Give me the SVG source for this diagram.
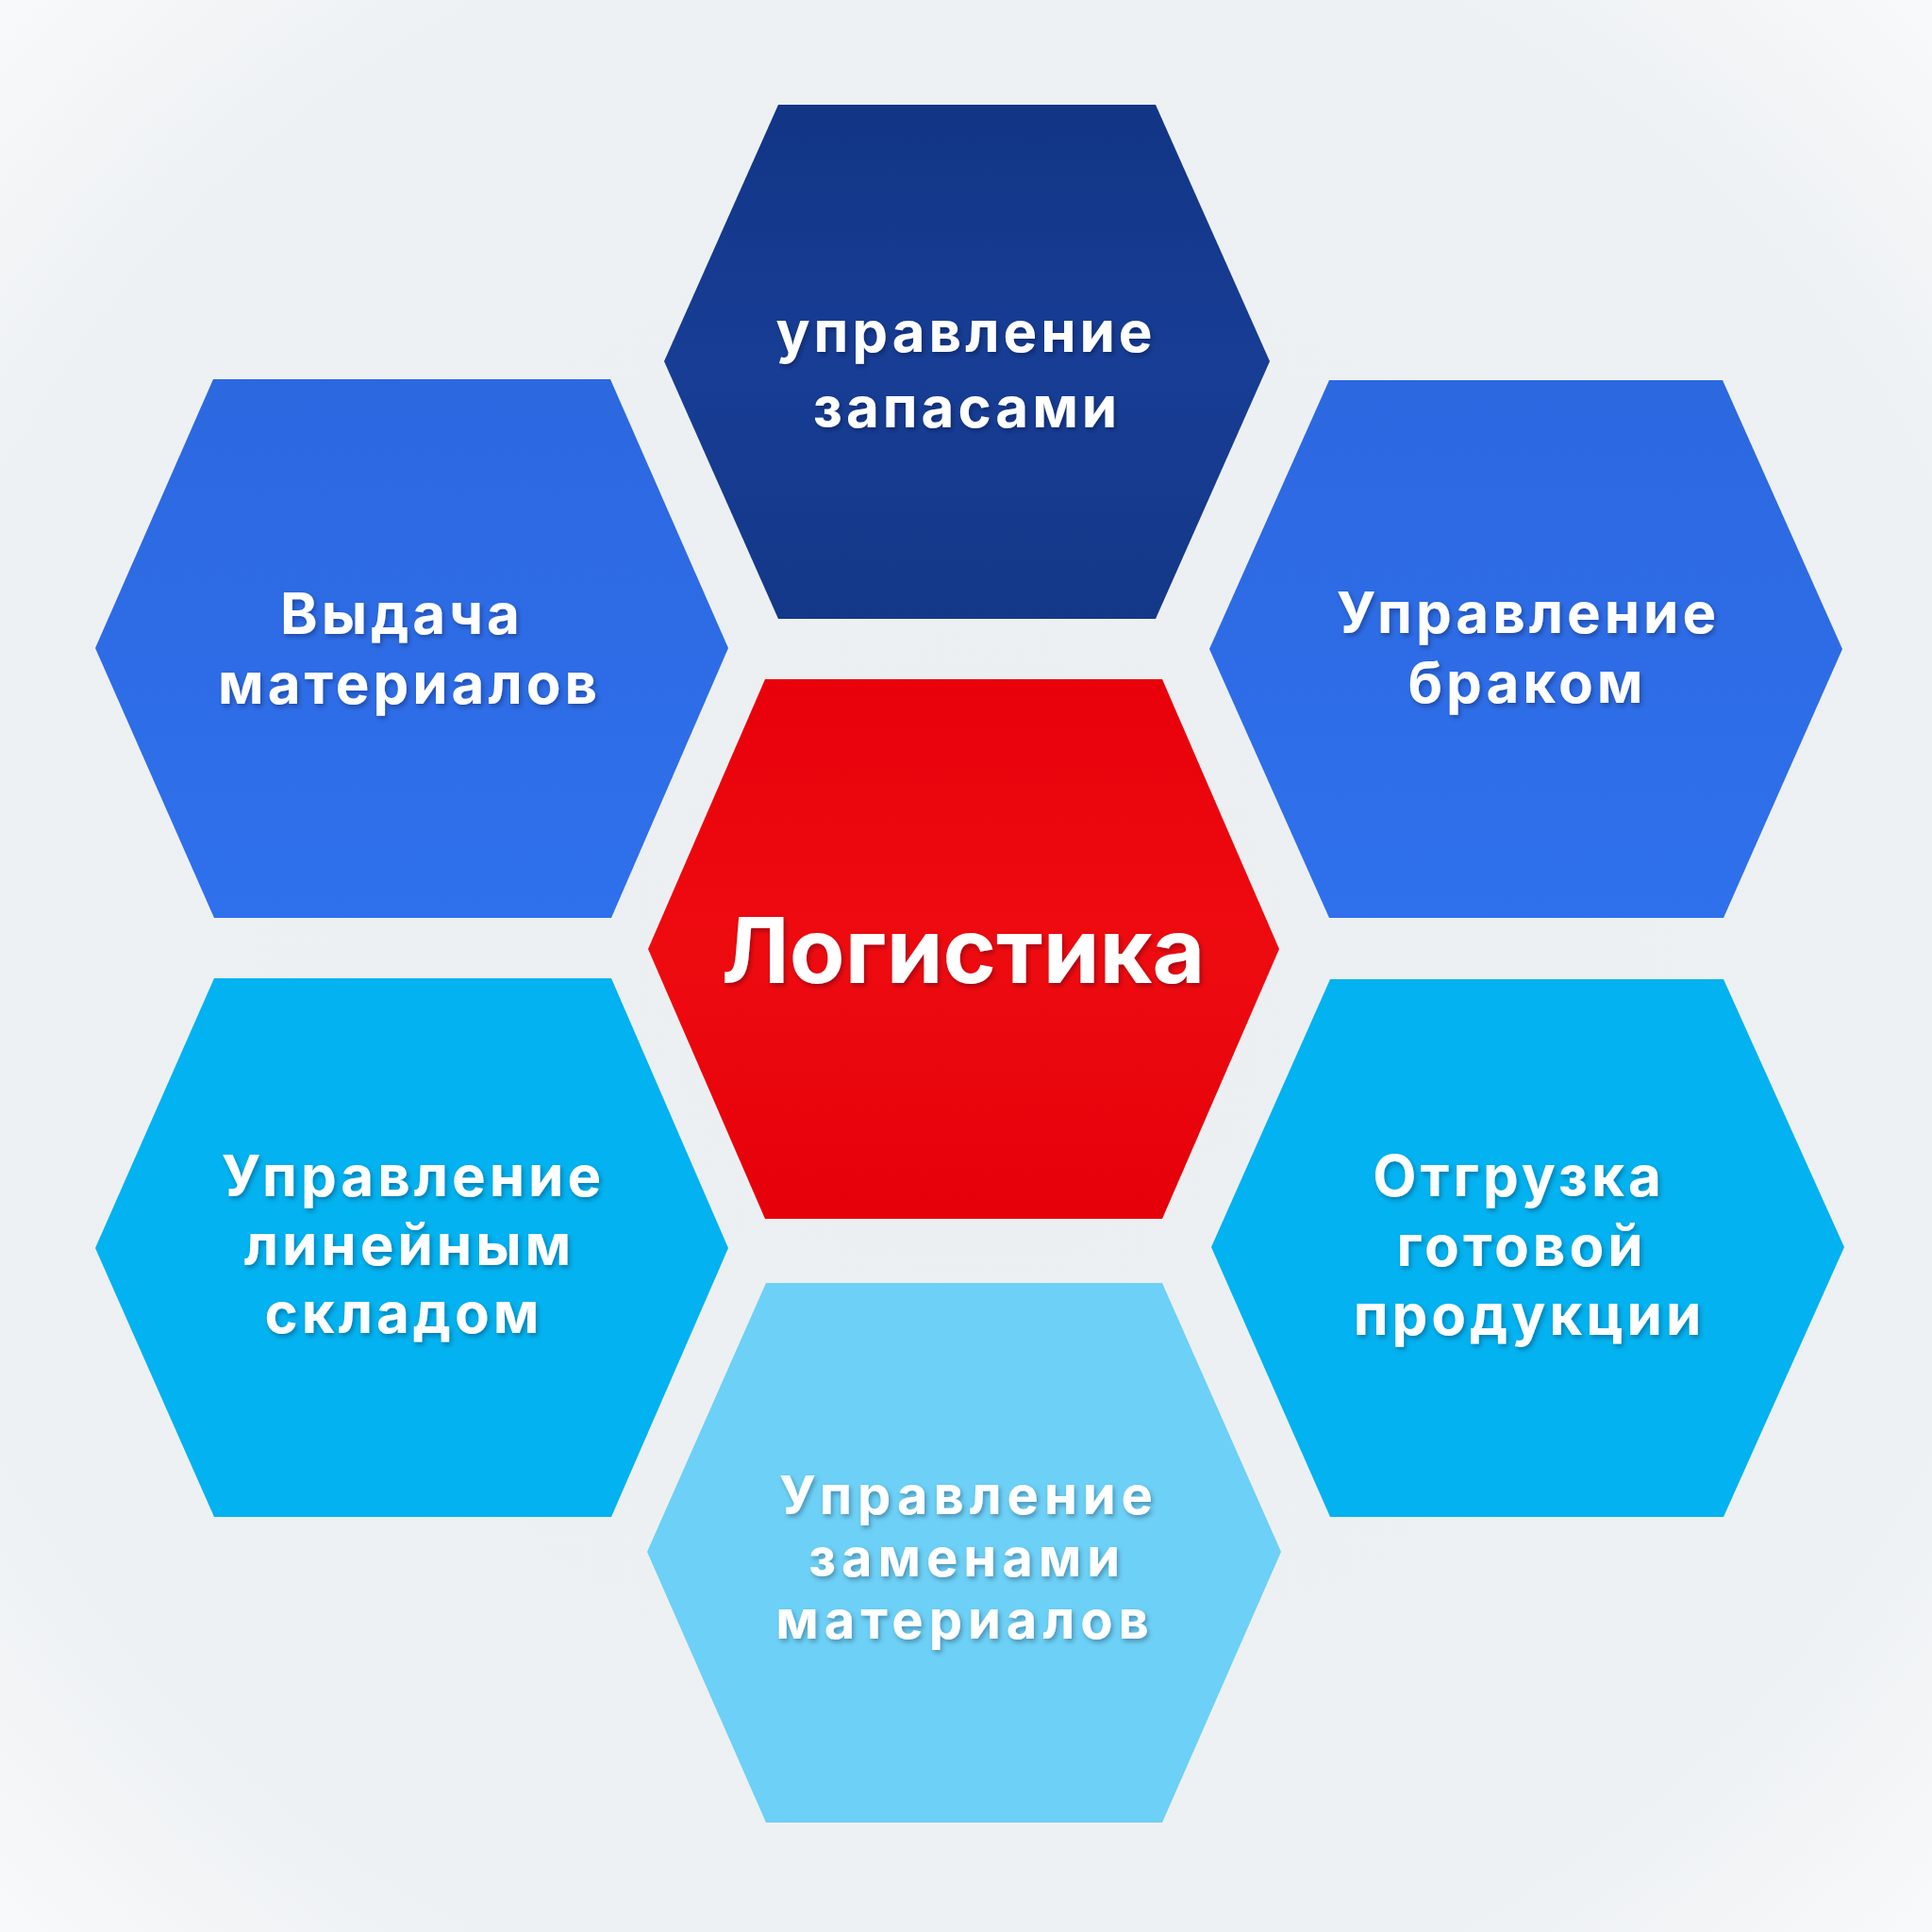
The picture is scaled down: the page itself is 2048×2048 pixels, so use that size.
<svg xmlns="http://www.w3.org/2000/svg" width="2048" height="2048" viewBox="0 0 2048 2048">
  <defs>
    <radialGradient id="bg" cx="50%" cy="50%" r="70%">
      <stop offset="0%" stop-color="#eceff2"/>
      <stop offset="80%" stop-color="#eef1f3"/>
      <stop offset="100%" stop-color="#f7f9fa"/>
    </radialGradient>
    <linearGradient id="gNavy" x1="0" y1="0" x2="0" y2="1">
      <stop offset="0%" stop-color="#123585"/>
      <stop offset="50%" stop-color="#173d95"/>
      <stop offset="100%" stop-color="#143888"/>
    </linearGradient>
    <linearGradient id="gBlue" x1="0" y1="0" x2="0" y2="1">
      <stop offset="0%" stop-color="#2c68e0"/>
      <stop offset="100%" stop-color="#2f70ec"/>
    </linearGradient>
    <linearGradient id="gRed" x1="0" y1="0" x2="0" y2="1">
      <stop offset="0%" stop-color="#e8000a"/>
      <stop offset="50%" stop-color="#ee0b10"/>
      <stop offset="100%" stop-color="#e6000a"/>
    </linearGradient>
    <filter id="ts" x="-10%" y="-30%" width="120%" height="160%">
      <feDropShadow dx="2" dy="3" stdDeviation="2.5" flood-color="#000814" flood-opacity="0.3"/>
    </filter>
  </defs>
  <style>
    .lbl { font-family: Inter, "Open Sans", "Liberation Sans", sans-serif; font-weight: 700; font-size: 60px; letter-spacing: 4px; fill: #ffffff; text-anchor: middle; filter: url(#ts); }
    .sm { font-size: 56px; letter-spacing: 6px; }
    .big { font-size: 96px; letter-spacing: 0px; }
  </style>
  <rect x="0" y="0" width="2048" height="2048" fill="url(#bg)"/>

  <g id="connectors"/>

  <g id="node-zapasy">
    <polygon points="825,111 1225,111 1346,383 1225,656 825,656 704,383" fill="url(#gNavy)"/>
    <text class="lbl" x="1024" y="373">управление</text>
    <text class="lbl" x="1025" y="453">запасами</text>
  </g>

  <g id="node-vydacha">
    <polygon points="226,402 647,402 772,687 648,973 227,973 101,687" fill="url(#gBlue)"/>
    <text class="lbl" x="426" y="672">Выдача</text>
    <text class="lbl" x="434" y="746">материалов</text>
  </g>

  <g id="node-brak">
    <polygon points="1409,403 1826,403 1953,688 1827,973 1409,973 1282,688" fill="url(#gBlue)"/>
    <text class="lbl" x="1620" y="671">Управление</text>
    <text class="lbl" x="1619" y="745">браком</text>
  </g>

  <g id="node-logistika">
    <polygon points="811,720 1232,720 1356,1006 1232,1292 811,1292 687,1006" fill="url(#gRed)"/>
    <text class="lbl big" x="1021" y="1042">Логистика</text>
  </g>

  <g id="node-lineyny">
    <polygon points="227,1037 648,1037 772,1323 648,1608 227,1608 101,1323" fill="#03b2f0"/>
    <text class="lbl" x="438" y="1268">Управление</text>
    <text class="lbl" x="434" y="1341">линейным</text>
    <text class="lbl" x="428" y="1413">складом</text>
  </g>

  <g id="node-otgruzka">
    <polygon points="1410,1038 1827,1038 1955,1322 1827,1608 1410,1608 1284,1322" fill="#03b2f0"/>
    <text class="lbl" x="1610" y="1268">Отгрузка</text>
    <text class="lbl" x="1613" y="1342">готовой</text>
    <text class="lbl" x="1621" y="1415">продукции</text>
  </g>

  <g id="node-zameny">
    <polygon points="812,1360 1232,1360 1358,1645 1232,1932 812,1932 686,1645" fill="#6dd0f6"/>
    <text class="lbl sm" x="1027" y="1605">Управление</text>
    <text class="lbl sm" x="1025" y="1671">заменами</text>
    <text class="lbl sm" x="1023" y="1737">материалов</text>
  </g>
</svg>
